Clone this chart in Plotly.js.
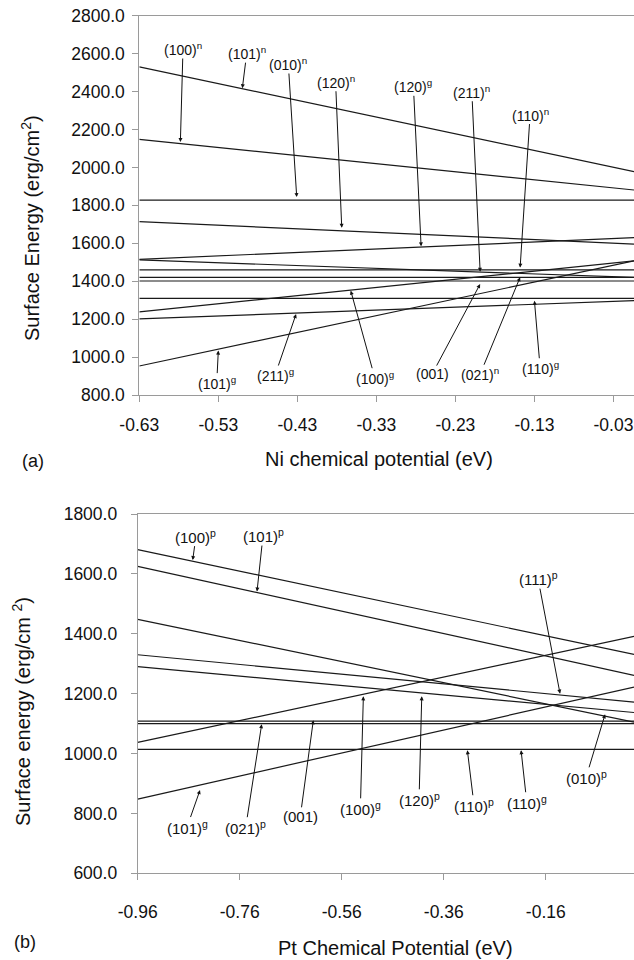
<!DOCTYPE html>
<html>
<head>
<meta charset="utf-8">
<script src="https://cdn.plot.ly/plotly-3.0.1.min.js"></script>
<style>
html,body{margin:0;padding:0;background:#fff;overflow:hidden;}
#chart{width:634px;height:960px;}
</style>
</head>
<body>
<div id="chart"></div>
<script>
// ---------- DATA: panel (a) Ni chemical potential ----------
const topX = [-0.63, -0.004];
const topStart = [2530, 2148, 1828, 1714, 1515, 1512, 1460, 1420, 1401, 1309, 1238, 953, 1201];
const topEnd   = [1978, 1881, 1828, 1596, 1630, 1420, 1460, 1420, 1401, 1309, 1507, 1507, 1298];
const topTickVals = [-0.63, -0.53, -0.43, -0.33, -0.23, -0.13, -0.03];
const topTickText = ["-0.63", "-0.53", "-0.43", "-0.33", "-0.23", "-0.13", "-0.03"];
const topLabels = ["(100)<sup>n</sup>", "(101)<sup>n</sup>", "(010)<sup>n</sup>", "(120)<sup>n</sup>",
  "(120)<sup>g</sup>", "(211)<sup>n</sup>", "(110)<sup>n</sup>", "(101)<sup>g</sup>", "(211)<sup>g</sup>",
  "(100)<sup>g</sup>", "(001)", "(021)<sup>n</sup>", "(110)<sup>g</sup>"];
const topTipX = [-0.578, -0.4996, -0.4308, -0.3738, -0.2734, -0.1987, -0.1481, -0.53, -0.4316, -0.3624, -0.1987, -0.1481, -0.13];
const topTipY = [2134, 2418, 1844, 1682, 1584, 1450, 1472, 1034, 1227, 1350, 1385, 1421, 1297];

// ---------- DATA: panel (b) Pt chemical potential ----------
const botX = [-0.96, 0.013];
const botStart = [1681, 1625, 1448, 1330, 1290, 1037, 848, 1108, 1100, 1014];
const botEnd   = [1331, 1261, 1105, 1172, 1137, 1391, 1222, 1108, 1100, 1014];
const botTickVals = [-0.96, -0.76, -0.56, -0.36, -0.16];
const botTickText = ["-0.96", "-0.76", "-0.56", "-0.36", "-0.16"];
const botLabels = ["(100)<sup>p</sup>", "(101)<sup>p</sup>", "(111)<sup>p</sup>", "(101)<sup>g</sup>",
  "(021)<sup>p</sup>", "(001)", "(100)<sup>g</sup>", "(120)<sup>p</sup>", "(110)<sup>p</sup>",
  "(110)<sup>g</sup>", "(010)<sup>p</sup>"];
const botTipX = [-0.8522, -0.7261, -0.132, -0.8378, -0.7169, -0.6157, -0.5176, -0.4031, -0.3137, -0.2084, -0.0437];
const botTipY = [1646, 1541, 1200, 878, 1098, 1111, 1191, 1191, 1011, 1011, 1131];

// ---------- label text offsets (pixels, text centre relative to arrow tip) ----------
const topOff = [[2.6,-93],[4.4,-35],[-8.4,-133],[-6.2,-146],[-7.7,-160],[-8.3,-180],[10,-153],
  [-1.6,32],[-21,61],[24,87],[-48,90],[-40,97],[5.7,67]];
const botOff = [[3.3,-24],[6,-56],[-22,-115],[-13,37],[-16,103],[-13,96],[-3,112],[-2.7,103],[6.7,55],[5.7,52],[-19,63]];

const W = 634, H = 960;
const FONT = "Liberation Sans, Arial, Helvetica, sans-serif";
const LINE = {color: "#1a1a1a", width: 1.2};
const AXC = "#9a9a9a";

const traces = [];
topStart.forEach((v, i) => {
  traces.push({x: topX, y: [v, topEnd[i]], xaxis: "x", yaxis: "y", mode: "lines",
    line: LINE, hoverinfo: "skip", type: "scatter"});
});
botStart.forEach((v, i) => {
  traces.push({x: botX, y: [v, botEnd[i]], xaxis: "x2", yaxis: "y2", mode: "lines",
    line: LINE, hoverinfo: "skip", type: "scatter"});
});

const px = v => v / W;
const py = v => 1 - v / H;

const annotations = [];
topLabels.forEach((t, i) => {
  annotations.push({text: t, x: topTipX[i], y: topTipY[i], xref: "x", yref: "y",
    ax: topOff[i][0], ay: topOff[i][1], showarrow: true, arrowhead: 2, arrowsize: 0.8,
    arrowwidth: 1, arrowcolor: "#111", standoff: 0, borderpad: 0,
    font: {family: FONT, size: 14, color: "#111"}});
});
botLabels.forEach((t, i) => {
  annotations.push({text: t, x: botTipX[i], y: botTipY[i], xref: "x2", yref: "y2",
    ax: botOff[i][0], ay: botOff[i][1], showarrow: true, arrowhead: 2, arrowsize: 0.8,
    arrowwidth: 1, arrowcolor: "#111", standoff: 0, borderpad: 0,
    font: {family: FONT, size: 15, color: "#111"}});
});
const titleFont = {family: FONT, size: 20, color: "#111"};
const P = {xref: "paper", yref: "paper", showarrow: false, xanchor: "center", yanchor: "middle"};
annotations.push(
  Object.assign({text: "Surface Energy (erg/cm<sup>2</sup>)", x: px(30), y: py(228),
    textangle: -90, font: titleFont}, P),
  Object.assign({text: "Ni chemical potential (eV)", x: px(379), y: py(459), font: titleFont}, P),
  Object.assign({text: "(a)", x: px(33), y: py(461), font: {family: FONT, size: 18, color: "#111"}}, P),
  Object.assign({text: "Surface energy (erg/cm <sup>2</sup>)", x: px(21), y: py(712),
    textangle: -90, font: titleFont}, P),
  Object.assign({text: "Pt Chemical Potential (eV)", x: px(395), y: py(948), font: titleFont}, P),
  Object.assign({text: "(b)", x: px(25), y: py(942), font: {family: FONT, size: 18, color: "#111"}}, P)
);

const tickFont = {family: FONT, size: 17.5, color: "#111"};
const xBase = {showgrid: false, zeroline: false, showline: true, linecolor: AXC, linewidth: 1,
  mirror: true, ticks: "outside", ticklen: 6, tickcolor: AXC, tickfont: tickFont, tickmode: "array"};
const yBase = {showgrid: false, zeroline: false, showline: true, linecolor: AXC, linewidth: 1,
  ticks: "outside", ticklen: 6, tickcolor: AXC, tickfont: tickFont, tickformat: ".1f"};

const layout = {
  width: W, height: H, margin: {l: 0, r: 0, t: 0, b: 0}, showlegend: false,
  paper_bgcolor: "#fff", plot_bgcolor: "#fff",
  xaxis: Object.assign({}, xBase, {domain: [px(139.3), 1], range: [topX[0], topX[1]], anchor: "y",
    tickvals: topTickVals, ticktext: topTickText, ticklabelstandoff: 8}),
  yaxis: Object.assign({}, yBase, {domain: [py(395), py(15.7)], range: [800, 2800], dtick: 200,
    tick0: 800, anchor: "x", ticklabelstandoff: 4}),
  xaxis2: Object.assign({}, xBase, {domain: [px(137.7), 1], range: [botX[0], botX[1]], anchor: "y2",
    tickvals: botTickVals, ticktext: botTickText, ticklabelstandoff: 17}),
  yaxis2: Object.assign({}, yBase, {domain: [py(873.3), py(514)], range: [600, 1800], dtick: 200,
    tick0: 600, anchor: "x2", ticklabelstandoff: 10}),
  annotations: annotations
};

Plotly.newPlot("chart", traces, layout, {displayModeBar: false, staticPlot: true});
</script>
</body>
</html>
